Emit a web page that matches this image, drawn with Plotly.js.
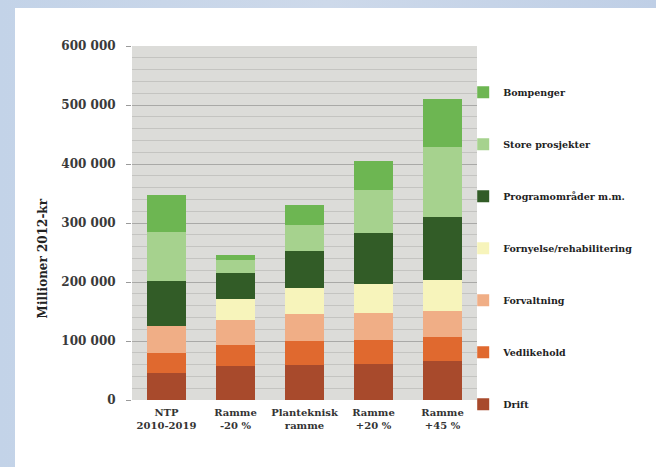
<!DOCTYPE html>
<html>
<head>
<meta charset="utf-8">
<script src="https://cdn.plot.ly/plotly-3.0.1.min.js"></script>
<style>
  html, body { margin: 0; padding: 0; width: 656px; height: 467px; overflow: hidden;
    background: linear-gradient(90deg, #c3d3e8 0%, #cdd9ea 50%, #bfcfe6 100%); }
  #panel { position: absolute; left: 15px; top: 8px; width: 641px; height: 459px; background: #ffffff; }
  #chart { position: absolute; left: 0; top: 0; width: 656px; height: 467px; }
</style>
</head>
<body>
<div id="panel"></div>
<div id="chart"></div>
<script>
// Categories (x-axis tick labels)
const categories = ["NTP<br>2010-2019", "Ramme<br>-20 %", "Planteknisk<br>ramme", "Ramme<br>+20 %", "Ramme<br>+45 %"];

// Series values (millioner 2012-kr), bottom to top
const drift        = [45000, 57000, 60000, 61000, 66000];
const vedlikehold  = [35000, 36000, 40000, 41000, 40000];
const forvaltning  = [45000, 43000, 45000, 45000, 45000];
const fornyelse    = [0,     36000, 44000, 50000, 52000];
const programomr   = [77000, 43000, 63000, 86000, 107000];
const storeProsj   = [82000, 23000, 45000, 73000, 119000];
const bompenger    = [64000, 7000,  33000, 49000, 81000];

const seriesNames = ["Drift", "Vedlikehold", "Forvaltning", "Fornyelse/rehabilitering",
                     "Programområder m.m.", "Store prosjekter", "Bompenger"];
const seriesValues = [drift, vedlikehold, forvaltning, fornyelse, programomr, storeProsj, bompenger];
const seriesColors = ["#a84a2c", "#e0692f", "#f0ae86", "#f7f4bb", "#325c27", "#a6d28e", "#6db652"];

// y-axis ticks
const yTickVals = [0, 100000, 200000, 300000, 400000, 500000, 600000];
const yTickText = ["0", "100 000", "200 000", "300 000", "400 000", "500 000", "600 000"];

const serif = "DejaVu Serif, Liberation Serif, serif";

const traces = seriesNames.map((name, i) => ({
  type: "bar",
  name: name,
  x: categories,
  y: seriesValues[i],
  marker: { color: seriesColors[i], line: { width: 0 } },
  legendgroup: "g" + i,
  legendrank: seriesNames.length - i,
  hoverinfo: "name+y"
}));

const layout = {
  width: 656,
  height: 467,
  barmode: "stack",
  bargap: 0.43,
  paper_bgcolor: "rgba(0,0,0,0)",
  plot_bgcolor: "#dcdcd9",
  margin: { l: 132, r: 179, t: 46, b: 67, pad: 0 },
  showlegend: true,
  legend: {
    x: 0.96, xanchor: "left", xref: "paper",
    y: 0.91, yanchor: "top",
    traceorder: "grouped",
    tracegroupgap: 33,
    font: { family: serif, size: 9.5, color: "#222", weight: 700 },
    bgcolor: "rgba(0,0,0,0)",
    itemwidth: 30
  },
  xaxis: {
    type: "category",
    tickfont: { family: serif, size: 10, color: "#333", weight: 700 },
    ticklabelstandoff: 5,
    showgrid: false,
    ticks: "",
    showline: false,
    zeroline: false,
    automargin: false
  },
  yaxis: {
    range: [0, 600000],
    tickvals: yTickVals,
    ticktext: yTickText,
    tickfont: { family: serif, size: 12, color: "#3a3a3a", weight: 700 },
    ticks: "outside",
    ticklen: 5,
    tickcolor: "#9a9a9a",
    ticklabelstandoff: 8,
    showgrid: true,
    gridcolor: "#a9a9a7",
    gridwidth: 1,
    minor: { dtick: 20000, showgrid: true, gridcolor: "#c4c4c1", gridwidth: 1 },
    zeroline: false,
    showline: false,
    automargin: false,
    fixedrange: true
  },
  annotations: [{
    text: "<b>Millioner 2012-kr</b>",
    xref: "paper", yref: "paper",
    x: -0.258, y: 0.40,
    xanchor: "center", yanchor: "middle",
    textangle: -90,
    showarrow: false,
    font: { family: serif, size: 12, color: "#222" }
  }]
};

Plotly.newPlot("chart", traces, layout, { displayModeBar: false, staticPlot: true });
</script>
</body>
</html>
